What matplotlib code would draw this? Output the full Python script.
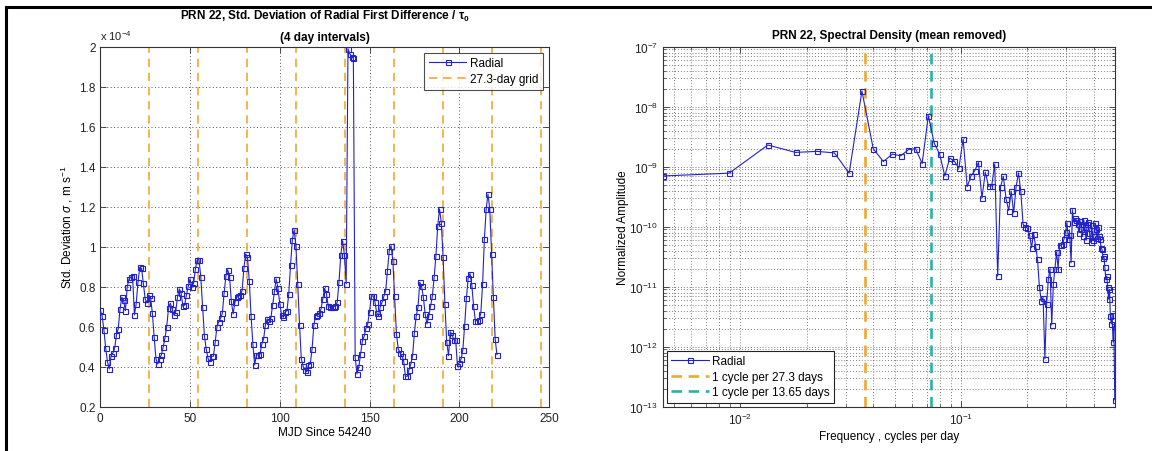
import numpy as np
import matplotlib
matplotlib.use("Agg")
import matplotlib.pyplot as plt
from matplotlib.ticker import LogLocator, NullFormatter, MultipleLocator, FixedLocator, LogFormatterMathtext
from matplotlib import font_manager
from matplotlib.lines import Line2D

# ---------------- data ----------------
# Left panel: std. deviation of radial first difference (x 1e-4 m/s), one value per day
radial_std = [
    0.683, 0.655, 0.586, 0.492, 0.425, 0.389, 0.455, 0.468, 0.492, 0.559,
    0.590, 0.689, 0.747, 0.732, 0.680, 0.800, 0.839, 0.848, 0.852, 0.659,
    0.714, 0.824, 0.897, 0.892, 0.817, 0.739, 0.719, 0.759, 0.745, 0.669,
    0.550, 0.439, 0.414, 0.439, 0.459, 0.497, 0.542, 0.600, 0.692, 0.717,
    0.689, 0.659, 0.675, 0.747, 0.789, 0.769, 0.702, 0.709, 0.759, 0.802,
    0.839, 0.797, 0.819, 0.889, 0.935, 0.935, 0.847, 0.700, 0.555, 0.489,
    0.442, 0.425, 0.452, 0.452, 0.522, 0.600, 0.625, 0.642, 0.667, 0.769,
    0.855, 0.885, 0.850, 0.727, 0.664, 0.722, 0.747, 0.752, 0.759, 0.780,
    0.892, 0.964, 0.947, 0.830, 0.655, 0.514, 0.409, 0.459, 0.459, 0.464,
    0.514, 0.539, 0.609, 0.639, 0.630, 0.642, 0.709, 0.780, 0.839, 0.792,
    0.714, 0.659, 0.647, 0.675, 0.680, 0.764, 0.909, 1.035, 1.085, 1.002,
    0.814, 0.609, 0.439, 0.402, 0.385, 0.375, 0.409, 0.414, 0.489, 0.609,
    0.655, 0.660, 0.668, 0.689, 0.739, 0.792, 0.764, 0.702, 0.697, 0.697,
    0.700, 0.705, 0.722, 0.825, 0.959, 1.030, 0.959, 0.814, 1.990, 1.965,
    1.950, 1.942, 0.447, 0.364, 0.397, 0.464, 0.527, 0.552, 0.592, 0.614,
    0.675, 0.752, 0.755, 0.725, 0.669, 0.655, 0.700, 0.722, 0.752, 0.780,
    0.880, 0.980, 1.005, 0.930, 0.752, 0.564, 0.489, 0.469, 0.455, 0.430,
    0.352, 0.352, 0.385, 0.414, 0.455, 0.569, 0.652, 0.697, 0.822, 0.802,
    0.747, 0.664, 0.614, 0.652, 0.702, 0.752, 0.847, 0.955, 1.102, 1.189,
    1.120, 0.947, 0.714, 0.525, 0.455, 0.575, 0.559, 0.535, 0.535, 0.402,
    0.421, 0.438, 0.485, 0.606, 0.745, 0.846, 0.866, 0.807, 0.703, 0.628,
    0.631, 0.636, 0.666, 0.813, 1.038, 1.189, 1.263, 1.189, 0.963, 0.750,
    0.539, 0.460,
]
lunar_period = 27.3          # days
grid_multiples = [1, 2, 3, 4, 5, 6, 7, 8, 9]

# Right panel: normalized spectral amplitude at k / 225 cycles per day
fft_length = 225
spec_amp = [
    7.0e-10, 7.8e-10, 2.3e-9, 1.73e-9, 1.8e-9, 1.7e-9, 7.8e-10, 1.83e-8, 2.0e-9, 1.22e-9,
    1.62e-9, 1.52e-9, 1.92e-9, 2.0e-9, 1.13e-9, 7.1e-9, 2.48e-9, 1.62e-9, 7.0e-10, 1.39e-9,
    1.24e-9, 9.4e-10, 2.9e-9, 4.65e-10, 7.1e-10, 8.6e-10, 1.17e-9, 3.0e-10, 8.1e-10, 4.7e-10,
    4.8e-10, 1.11e-9, 1.5e-11, 4.6e-10, 6.9e-10, 2.95e-10, 1.86e-10, 3.9e-10, 1.7e-10, 4.65e-10,
    7.9e-10, 3.9e-10, 1.1e-10, 1.0e-10, 9.5e-11, 7.3e-11, 4.5e-11, 7.7e-11, 4.8e-11, 2.9e-11,
    1.0e-11, 5.8e-12, 6.6e-12, 6.3e-13, 5.1e-12, 1.35e-11, 2.0e-11, 2.3e-12, 1.1e-11, 2.0e-11,
    3.8e-11, 2.0e-11, 5.0e-11, 4.9e-11, 5.2e-11, 6.3e-11, 8.2e-11, 1.17e-10, 6.3e-11, 7.3e-11,
    2.5e-11, 1.9e-10, 1.2e-10, 1.37e-10, 1.3e-10, 1.1e-10, 8.0e-11, 1.25e-10, 9.0e-11, 7.0e-11,
    1.3e-10, 1.0e-10, 6.0e-11, 1.1e-10, 1.2e-10, 8.0e-11, 5.5e-11, 1.05e-10, 6.0e-11, 7.0e-11,
    1.15e-10, 9.0e-11, 6.5e-11, 1.0e-10, 7.0e-11, 6.3e-11, 4.5e-11, 4.2e-11, 3.0e-11, 3.2e-11,
    2.1e-11, 1.35e-11, 1.5e-11, 1.0e-11, 6.2e-12, 9.0e-12, 3.2e-12, 2.4e-12, 3.4e-12, 1.2e-12,
    2.2e-12, 1.3e-13,
]
cycle_periods = [27.3, 13.65]
freq_ticks = [1e-2, 1e-1]
amp_ticks = [1e-13, 1e-12, 1e-11, 1e-10, 1e-9, 1e-8, 1e-7]

# ---------------- style ----------------
avail = {f.name for f in font_manager.fontManager.ttflist}
fam = 'Liberation Sans Narrow' if 'Liberation Sans Narrow' in avail else 'Liberation Sans'
plt.rcParams['font.family'] = [fam, 'DejaVu Sans']
plt.rcParams['mathtext.fontset'] = 'custom'
plt.rcParams['mathtext.rm'] = fam
plt.rcParams['mathtext.it'] = fam + ':italic'
plt.rcParams['mathtext.bf'] = fam + ':bold'

BLUE = '#2222cc'
ORANGE = '#f0a830'
TEAL = '#28b3a6'
AXC = '#333333'
FS = 8.5

fig = plt.figure(figsize=(11.52, 4.52), dpi=100)
W, H = 1152, 452

def add_ax(x0, x1, y_top, y_bot):
    return fig.add_axes([x0 / W, (H - y_bot) / H, (x1 - x0) / W, (y_bot - y_top) / H])

def style_ax(ax):
    for s in ax.spines.values():
        s.set_color(AXC)
        s.set_linewidth(0.8)
    ax.tick_params(which='both', direction='in', top=True, right=True,
                   labelsize=FS, colors=AXC, labelcolor='#222222')
    ax.tick_params(which='major', length=4, width=0.6)
    ax.tick_params(which='minor', length=2, width=0.5)

# ---------------- left panel ----------------
ax1 = add_ax(100.3, 549, 47.7, 407.7)
days = np.arange(len(radial_std))
for m in grid_multiples:
    ax1.axvline(m * lunar_period, color=ORANGE, ls=(0, (5, 3.5)), lw=1.2, zorder=2)
ax1.plot(days, radial_std, color=BLUE, lw=0.8, marker='s', ms=3.6, mfc='none',
         mec=BLUE, mew=0.8, zorder=3, clip_on=True)
ax1.set_xlim(0, 250)
ax1.set_ylim(0.2, 2.0)
ax1.xaxis.set_major_locator(MultipleLocator(50))
ax1.yaxis.set_major_locator(FixedLocator([0.2, 0.4, 0.6, 0.8, 1.0, 1.2, 1.4, 1.6, 1.8, 2.0]))
ax1.set_yticklabels(['0.2', '0.4', '0.6', '0.8', '1', '1.2', '1.4', '1.6', '1.8', '2'])
ax1.grid(True, which='major', color='#555555', ls=(0, (1, 2.5)), lw=0.7, zorder=1)
style_ax(ax1)
ax1.set_xlabel('MJD Since 54240', fontsize=FS, labelpad=2)
ax1.set_ylabel('Std. Deviation $\\sigma$ , m s$^{-1}$', fontsize=FS, labelpad=3)
ax1.text(0.0, 1.012, 'x 10$^{-4}$', transform=ax1.transAxes, fontsize=FS - 0.5,
         ha='left', va='bottom', color='#222222')
ax1.set_title('PRN 22, Std. Deviation of Radial First Difference / $\\mathbf{\\tau_0}$\n(4 day intervals)',
              fontsize=FS, fontweight='bold', linespacing=1.9, pad=5)
h1 = [Line2D([], [], color=BLUE, lw=0.8, marker='s', ms=3.6, mfc='none', mew=0.8),
      Line2D([], [], color=ORANGE, ls=(0, (5, 3.5)), lw=1.2)]
leg1 = ax1.legend(h1, ['Radial', '27.3-day grid'], loc='upper right', fontsize=FS,
                  handlelength=3.2, frameon=True, fancybox=False, edgecolor='#222222',
                  borderpad=0.4, labelspacing=0.35, handletextpad=0.3,
                  borderaxespad=0.5, markerfirst=True)
leg1.get_frame().set_linewidth(0.8)

# ---------------- right panel ----------------
freqs = np.arange(1, len(spec_amp) + 1) / fft_length
logf0 = np.log10(freqs[0])
logf1 = np.log10(freqs[-1])
px_per_dec = 220.6
x_dec_m1 = 961.0
ax2 = add_ax(x_dec_m1 + (logf0 + 1) * px_per_dec, x_dec_m1 + (logf1 + 1) * px_per_dec, 47.7, 407.7)
ax2.set_xscale('log')
ax2.set_yscale('log')
ax2.axvline(1 / cycle_periods[0], color=ORANGE, ls=(0, (4, 2.5)), lw=1.9, zorder=2)
ax2.axvline(1 / cycle_periods[1], color=TEAL, ls=(0, (4, 2.5)), lw=1.9, zorder=2)
ax2.plot(freqs, spec_amp, color=BLUE, lw=0.8, marker='s', ms=3.6, mfc='none',
         mec=BLUE, mew=0.8, zorder=3)
ax2.set_xlim(freqs[0], freqs[-1])
ax2.set_ylim(1e-13, 1e-7)
ax2.xaxis.set_major_locator(FixedLocator(freq_ticks))
ax2.xaxis.set_major_formatter(LogFormatterMathtext())
ax2.xaxis.set_minor_locator(LogLocator(base=10, subs=np.arange(2, 10), numticks=50))
ax2.xaxis.set_minor_formatter(NullFormatter())
ax2.yaxis.set_major_locator(FixedLocator(amp_ticks))
ax2.yaxis.set_major_formatter(LogFormatterMathtext())
ax2.yaxis.set_minor_locator(LogLocator(base=10, subs=np.arange(2, 10), numticks=50))
ax2.yaxis.set_minor_formatter(NullFormatter())
ax2.grid(True, which='both', color='#555555', ls=(0, (1, 2.5)), lw=0.6, zorder=1)
style_ax(ax2)
ax2.set_xlabel('Frequency , cycles per day', fontsize=FS, labelpad=2)
ax2.set_ylabel('Normalized Amplitude', fontsize=FS, labelpad=0)
ax2.set_title('PRN 22, Spectral Density (mean removed)', fontsize=FS, fontweight='bold', pad=6)
h2 = [Line2D([], [], color=BLUE, lw=0.8, marker='s', ms=3.6, mfc='none', mew=0.8),
      Line2D([], [], color=ORANGE, ls=(0, (4, 2.5)), lw=1.9),
      Line2D([], [], color=TEAL, ls=(0, (4, 2.5)), lw=1.9)]
leg2 = ax2.legend(h2, ['Radial', '1 cycle per 27.3 days', '1 cycle per 13.65 days'],
                  loc='lower left', fontsize=FS, handlelength=3.2, frameon=True,
                  fancybox=False, edgecolor='#222222', borderpad=0.35,
                  labelspacing=0.3, handletextpad=0.3, borderaxespad=0.35)
leg2.get_frame().set_linewidth(0.8)
leg2.get_frame().set_alpha(1)

# ---------------- figure frame ----------------
fig.add_artist(Line2D([6 / W, 6 / W], [0, (H - 7.5) / H], transform=fig.transFigure,
                      color='black', lw=2.2))
fig.add_artist(Line2D([6 / W, 1], [(H - 7.5) / H, (H - 7.5) / H], transform=fig.transFigure,
                      color='black', lw=2.2))

fig.savefig('out.png', dpi=100)
